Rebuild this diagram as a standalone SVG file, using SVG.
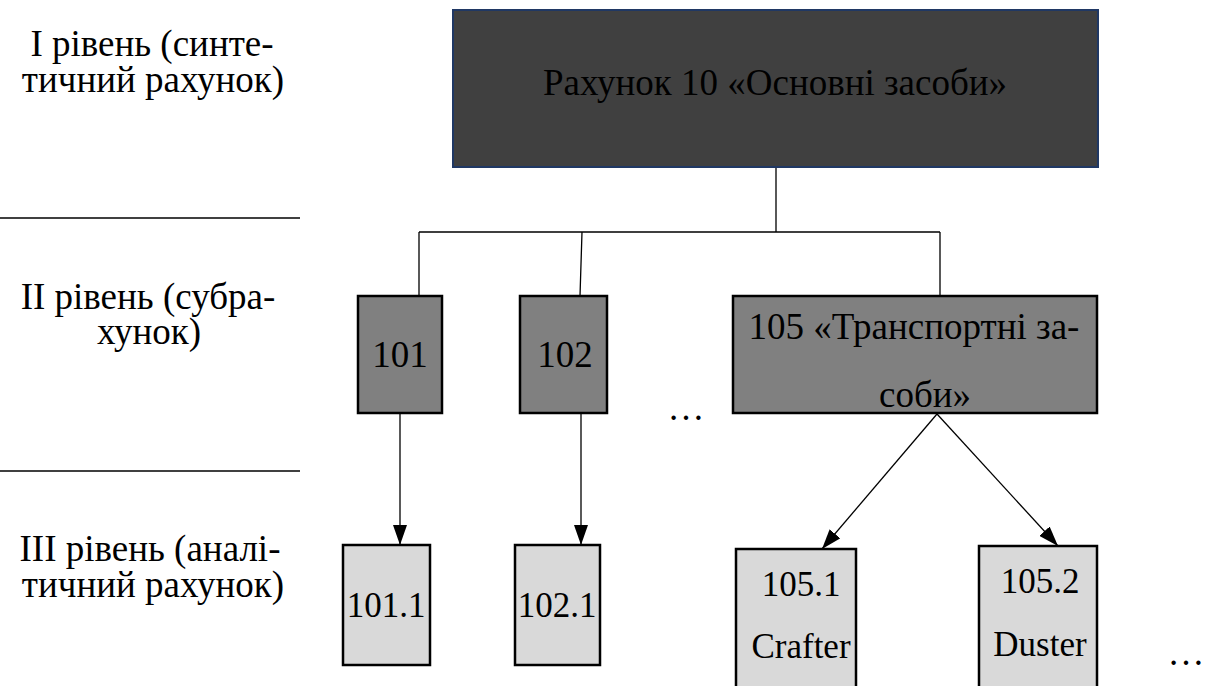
<svg xmlns="http://www.w3.org/2000/svg" width="1230" height="686" viewBox="0 0 1230 686">
  <style>
    text { font-family: "Liberation Serif", "Times New Roman", serif; font-size: 37px; fill: #000; text-anchor: middle; }
    .lvl { font-size: 37px; }
    .sm { font-size: 35px; }
    .sep { stroke: #000; stroke-width: 1.3; }
    .top { fill: #404040; stroke: #203864; stroke-width: 2; }
    .mid { fill: #808080; stroke: #000; stroke-width: 2.5; }
    .low { fill: #d9d9d9; stroke: #000; stroke-width: 2.5; }
    .wire { fill: none; stroke: #000; stroke-width: 1.3; }
  </style>
  <defs>
    <marker id="head" viewBox="0 0 20 14" refX="20" refY="7" markerWidth="20" markerHeight="14" markerUnits="userSpaceOnUse" orient="auto">
      <path d="M0,0 L20,7 L0,14 z" fill="#000"/>
    </marker>
  </defs>

  <!-- level captions with separators -->
  <g id="levels">
    <text class="lvl"><tspan x="152" y="56">І рівень (синте-</tspan><tspan x="153" y="92">тичний рахунок)</tspan></text>
    <line class="sep" x1="0" y1="218" x2="300" y2="218"/>
    <text class="lvl"><tspan x="148" y="309">ІІ рівень (субра-</tspan><tspan x="149" y="344">хунок)</tspan></text>
    <line class="sep" x1="0" y1="471" x2="300" y2="471"/>
    <text class="lvl"><tspan x="150" y="561">ІІІ рівень (аналі-</tspan><tspan x="153" y="597">тичний рахунок)</tspan></text>
  </g>

  <!-- connectors -->
  <g id="connectors">
    <path class="wire" d="M776,167 V232 M419,232 H940 M419,232 V296 M582,232 L580,296 M940,232 V296"/>
    <line class="wire" x1="400" y1="413" x2="400" y2="545" marker-end="url(#head)"/>
    <line class="wire" x1="581" y1="413" x2="581" y2="545" marker-end="url(#head)"/>
    <line class="wire" x1="937" y1="414" x2="822" y2="549" marker-end="url(#head)"/>
    <line class="wire" x1="937" y1="414" x2="1058" y2="546" marker-end="url(#head)"/>
  </g>

  <g id="n10">
    <rect class="top" x="453" y="10" width="645" height="157"/>
    <text x="775" y="95">Рахунок 10 «Основні засоби»</text>
  </g>

  <g id="n101">
    <rect class="mid" x="358" y="296" width="84" height="117"/>
    <text x="400" y="367">101</text>
  </g>
  <g id="n102">
    <rect class="mid" x="520" y="296" width="87" height="117"/>
    <text x="565" y="367">102</text>
  </g>
  <text id="dots1" x="686" y="420">…</text>
  <g id="n105">
    <rect class="mid" x="733" y="296" width="364" height="117"/>
    <text><tspan x="914" y="339">105 «Транспортні за-</tspan><tspan x="925" y="407">соби»</tspan></text>
  </g>

  <g id="n101_1">
    <rect class="low" x="343" y="545" width="87" height="120"/>
    <text class="sm" x="386" y="617">101.1</text>
  </g>
  <g id="n102_1">
    <rect class="low" x="515" y="545" width="85" height="120"/>
    <text class="sm" x="557" y="617">102.1</text>
  </g>
  <g id="n105_1">
    <rect class="low" x="736" y="549" width="120" height="140"/>
    <text class="sm"><tspan x="801" y="596">105.1</tspan><tspan x="801" y="658">Crafter</tspan></text>
  </g>
  <g id="n105_2">
    <rect class="low" x="979" y="546" width="118" height="143"/>
    <text class="sm"><tspan x="1040" y="593">105.2</tspan><tspan x="1040" y="656">Duster</tspan></text>
  </g>
  <text id="dots2" x="1186" y="665">…</text>
</svg>
